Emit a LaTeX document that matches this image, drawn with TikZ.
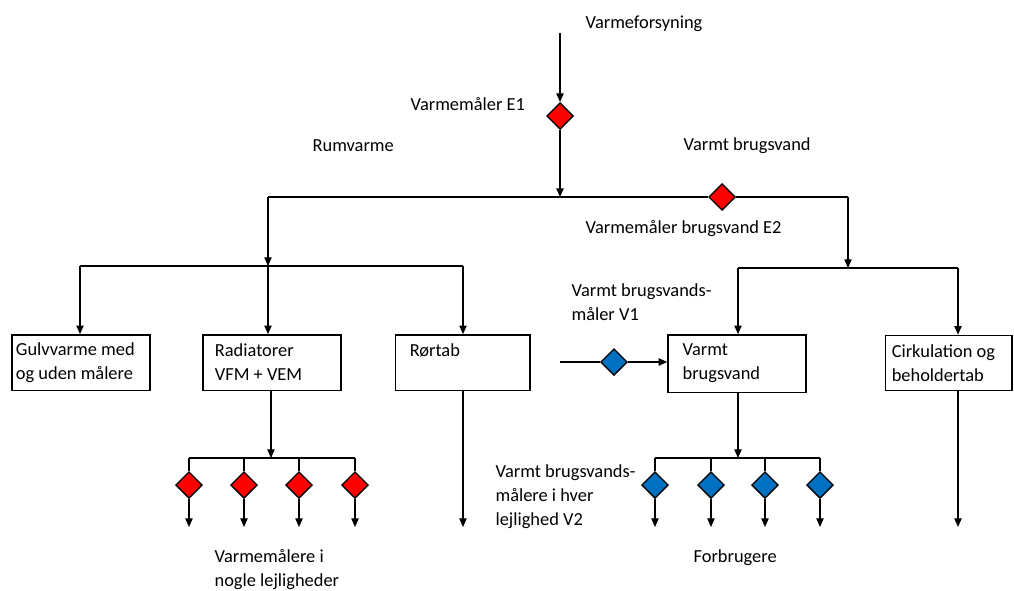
\documentclass[tikz,border=0pt]{standalone}
\usepackage{fontspec}
\setmainfont{Carlito}
\usetikzlibrary{arrows.meta,positioning,shapes.geometric}

\begin{document}
\begin{tikzpicture}[
  x=0.75pt, y=-0.75pt,
  font=\fontsize{13.8pt}{18pt}\selectfont,
  line width=0.9pt,
  >={Triangle[width=5.5pt,length=6.5pt]},
  box/.style={draw, line width=1pt, minimum width=#1, minimum height=41.5pt, inner sep=0pt},
  meter/.style={draw, diamond, fill=#1, minimum size=20pt, inner sep=0pt, line width=1pt},
  lbl/.style={anchor=west, inner sep=0pt, align=left},
]
\definecolor{mred}{RGB}{255,0,0}
\definecolor{mblue}{RGB}{0,112,192}
\useasboundingbox (0,0) rectangle (1014,590);

% Supply and main meter
\node[lbl] (supply) at (585,24) {Varmeforsyning};
\coordinate (src) at (560,33);
\node[meter=mred] (e1) at (560,116) {};
\node[lbl] (e1-t) at (410,104) {Varmemåler E1};
\coordinate (j0) at (560,197);
\draw[->] (src) -- (e1.north);
\draw[->] (e1.south) -- (j0);

% Main split
\node[lbl] (rum-t) at (312,146) {Rumvarme};
\node[lbl] (vbv-t) at (683,146) {Varmt brugsvand};
\coordinate (jl) at (268,197);
\coordinate (jr) at (848,197);
\node[meter=mred] (e2) at (722,197) {};
\node[lbl] (e2-t) at (585,229) {Varmemåler brugsvand E2};
\draw (jl) -- (e2.west);
\draw (e2.east) -- (jr);

% Room heating branch
\coordinate (jl2) at (268,266);
\coordinate (gl) at (80,266);
\coordinate (rr) at (463,266);
\draw[->] (jl) -- (jl2);
\draw (gl) -- (rr);
\node[box=103.5pt] (gulv) at (81,362.5) {};
\node[lbl] (gulv-t) at ([xshift=3pt]gulv.west) {Gulvvarme med\\og uden målere};
\node[box=103.5pt] (rad) at (272,362.5) {};
\node[lbl] (rad-t) at ([xshift=9pt]rad.west) {Radiatorer\\VFM + VEM};
\node[box=101pt] (ror) at (462.5,362.5) {};
\node[lbl] (ror-t) at ([xshift=11pt]ror.west) {Rørtab\\\mbox{}};
\draw[->] (gl) -- (gl |- gulv.north);
\draw[->] (jl2) -- (jl2 |- rad.north);
\draw[->] (rr) -- (rr |- ror.north);

% Domestic hot water branch
\coordinate (jr2) at (848,268);
\coordinate (vl) at (738,268);
\coordinate (cr) at (958,268);
\draw[->] (jr) -- (jr2);
\draw (vl) -- (cr);
\node[box=103.5pt, minimum height=43pt] (varmt) at (737,363.5) {};
\node[lbl] (varmt-t) at ([xshift=11pt]varmt.west) {Varmt\\brugsvand};
\node[box=95pt] (cirk) at (948.5,363) {};
\node[lbl] (cirk-t) at ([xshift=5pt]cirk.west) {Cirkulation og\\beholdertab};
\draw[->] (vl) -- (vl |- varmt.north);
\draw[->] (cr) -- (cr |- cirk.north);

% Cold water meter V1
\coordinate (v1in) at (560,362);
\node[meter=mblue] (v1) at (614,362) {};
\node[lbl] (v1-t) at (571,302.5) {Varmt brugsvands-\\måler V1};
\draw (v1in) -- (v1.west);
\draw[->] (v1.east) -- (varmt.west |- v1);

% Apartment heat meters
\coordinate (rb) at (271,458);
\draw[->] (rad.south -| rb) -- (rb);
\draw (189,458) -- (355,458);
\foreach \i/\x in {1/189, 2/244, 3/299, 4/355} {
  \node[meter=mred] (r\i) at (\x,485) {};
  \coordinate (r\i-top) at (\x,458);
  \coordinate (r\i-end) at (\x,527);
  \draw (r\i-top) -- (r\i.north);
  \draw[->] (r\i.south) -- (r\i-end);
}
\node[lbl] (r-t) at (214,569.5) {Varmemålere i\\nogle lejligheder};

% Pipe loss and circulation outlets
\coordinate (ror-end) at (463,527);
\draw[->] (ror.south -| ror-end) -- (ror-end);
\coordinate (cirk-end) at (958,527);
\draw[->] (cirk.south -| cirk-end) -- (cirk-end);

% Apartment hot water meters
\coordinate (bb) at (738,458);
\draw[->] (varmt.south -| bb) -- (bb);
\draw (655,458) -- (820,458);
\foreach \i/\x in {1/655, 2/711, 3/765, 4/820} {
  \node[meter=mblue] (b\i) at (\x,485) {};
  \coordinate (b\i-top) at (\x,458);
  \coordinate (b\i-end) at (\x,527);
  \draw (b\i-top) -- (b\i.north);
  \draw[->] (b\i.south) -- (b\i-end);
}
\node[lbl] (b-t) at (495,497) {Varmt brugsvands-\\målere i hver\\lejlighed V2};
\node[lbl] (forbr) at (693,558) {Forbrugere};
\end{tikzpicture}
\end{document}
